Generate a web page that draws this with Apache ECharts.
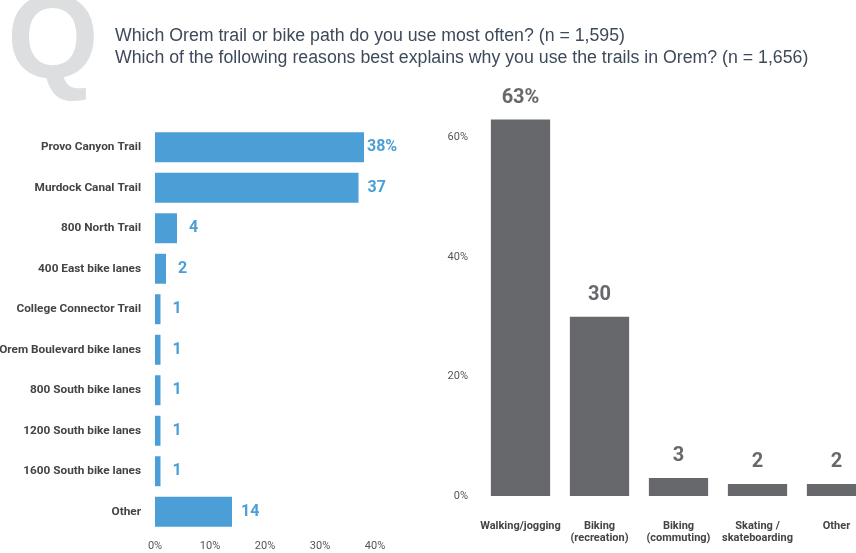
<!DOCTYPE html>
<html>
<head>
<meta charset="utf-8">
<script src="https://cdn.jsdelivr.net/npm/echarts@6/dist/echarts.min.js"></script>
<style>
  html, body { margin: 0; padding: 0; background: #fff; }
  #chart { width: 856px; height: 553px; }
</style>
</head>
<body>
<div id="chart"></div>
<script>
// Trail usage (left) and reasons for use (right), percent of respondents
const trailNames = [
  'Provo Canyon Trail', 'Murdock Canal Trail', '800 North Trail', '400 East bike lanes',
  'College Connector Trail', 'Orem Boulevard bike lanes', '800 South bike lanes',
  '1200 South bike lanes', '1600 South bike lanes', 'Other'
];
const trailShares = [38, 37, 4, 2, 1, 1, 1, 1, 1, 14];
const trailTicks = [0, 10, 20, 30, 40];

const reasonNames = ['Walking/jogging', 'Biking\n(recreation)', 'Biking\n(commuting)', 'Skating /\nskateboarding', 'Other'];
const reasonShares = [63, 30, 3, 2, 2];
const reasonTicks = [0, 20, 40, 60];

const titleLines = [
  'Which Orem trail or bike path do you use most often? (n = 1,595)',
  'Which of the following reasons best explains why you use the trails in Orem? (n = 1,656)'
];

const FONT = 'Roboto';
const BLUE = '#4b9fd6';
const GREY = '#67686c';

const chart = echarts.init(document.getElementById('chart'));

chart.setOption({
  backgroundColor: '#fff',
  animation: false,
  graphic: [
    {
      type: 'text', left: 7, top: -14,
      style: { text: 'Q', font: 'bold 118px "Liberation Sans"', fill: '#dcdedf' }
    },
    {
      type: 'text', left: 115, top: 25, scaleX: 0.985,
      style: { text: titleLines.join('\n'), font: '18px "Liberation Sans"', lineHeight: 22, fill: '#3e4a5a' }
    }
  ],
  grid: [
    { left: 155, top: 127, width: 220, height: 405, outerBoundsMode: 'none' },
    { left: 481, top: 18, width: 395, height: 478, outerBoundsMode: 'none' }
  ],
  xAxis: [
    {
      gridIndex: 0, type: 'value', min: 0, max: 40, interval: 10,
      axisLine: { show: false }, axisTick: { show: false }, splitLine: { show: false },
      axisLabel: { formatter: v => trailTicks.includes(v) ? v + '%' : '', margin: 9, fontFamily: FONT, fontSize: 11, color: '#555' }
    },
    {
      gridIndex: 1, type: 'category', data: reasonNames,
      axisLine: { show: false }, axisTick: { show: false },
      axisLabel: { margin: 24, fontFamily: FONT, fontSize: 11, fontWeight: 'bold', lineHeight: 12, color: '#444', interval: 0 }
    }
  ],
  yAxis: [
    {
      gridIndex: 0, type: 'category', data: trailNames, inverse: true,
      axisLine: { show: false }, axisTick: { show: false },
      axisLabel: { margin: 14, fontFamily: FONT, fontSize: 11.8, fontWeight: 'bold', color: '#444' }
    },
    {
      gridIndex: 1, type: 'value', min: 0, max: 80, interval: 20,
      axisLine: { show: false }, axisTick: { show: false }, splitLine: { show: false },
      axisLabel: { showMaxLabel: false, formatter: v => reasonTicks.includes(v) ? v + '%' : '', margin: 13, fontFamily: FONT, fontSize: 11, color: '#555' }
    }
  ],
  series: [
    {
      type: 'bar', xAxisIndex: 0, yAxisIndex: 0,
      data: trailShares.map((v, i) => ({
        value: v,
        label: { distance: i === 0 ? 3 : (v === 1 || v === 2 || v === 4 ? 12 : 9) }
      })),
      barCategoryGap: '26%',
      itemStyle: { color: BLUE },
      label: {
        show: true, position: 'right',
        formatter: p => p.dataIndex === 0 ? p.value + '%' : String(p.value),
        fontFamily: FONT, fontSize: 16, fontWeight: 'bold', color: BLUE
      }
    },
    {
      type: 'bar', xAxisIndex: 1, yAxisIndex: 1,
      data: reasonShares,
      barCategoryGap: '25%',
      itemStyle: { color: GREY },
      label: {
        show: true, position: 'top', distance: 12,
        formatter: p => p.dataIndex === 0 ? p.value + '%' : String(p.value),
        fontFamily: FONT, fontSize: 20, fontWeight: 'bold', color: GREY
      }
    }
  ]
});
</script>
</body>
</html>
